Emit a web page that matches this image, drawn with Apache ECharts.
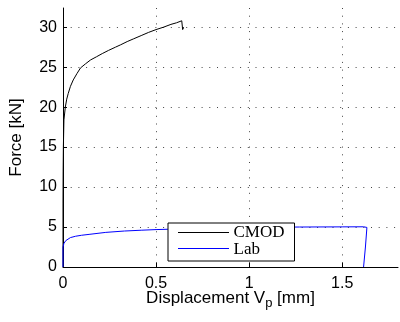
<!DOCTYPE html>
<html>
<head>
<meta charset="utf-8">
<script src="https://cdn.jsdelivr.net/npm/echarts@6/dist/echarts.min.js"></script>
<style>
  html, body { margin: 0; padding: 0; background: #fff; }
  #chart { width: 400px; height: 322px; }
</style>
</head>
<body>
<div id="chart"></div>
<script>
// Force–displacement curves: displacement Vp [mm], force [kN]
const cmodDisp = [0, 0, 0.0008, 0.002, 0.005, 0.0125, 0.02, 0.028, 0.04, 0.055, 0.075, 0.094, 0.12, 0.148, 0.18, 0.211, 0.245, 0.282, 0.31, 0.345, 0.38, 0.42, 0.46, 0.5, 0.54, 0.58, 0.61, 0.638, 0.642, 0.643, 0.646, 0.645];
const cmodForce = [0, 8, 12, 15, 18.4, 20.0, 21.0, 21.7, 22.6, 23.4, 24.2, 24.9, 25.4, 25.9, 26.3, 26.7, 27.1, 27.5, 27.8, 28.2, 28.55, 28.95, 29.35, 29.7, 30.0, 30.35, 30.55, 30.8, 30.7, 29.7, 30.0, 29.8];

const labDisp = [0, 0, 0.002, 0.005, 0.009, 0.015, 0.023, 0.04, 0.068, 0.1, 0.14, 0.23, 0.33, 0.42, 0.5, 0.56, 0.7, 0.85, 1.0, 1.27, 1.5, 1.615, 1.633, 1.625, 1.615];
const labForce = [0, 2.5, 2.75, 2.95, 3.1, 3.3, 3.5, 3.68, 3.85, 3.97, 4.08, 4.33, 4.5, 4.6, 4.68, 4.72, 4.82, 4.9, 4.95, 5.0, 5.02, 5.03, 4.95, 2.5, 0];

const xTicks = [0, 0.5, 1, 1.5];
const yTicks = [0, 5, 10, 15, 20, 25, 30];

const pairs = (xs, ys) => xs.map((x, i) => [x, ys[i]]);

const chart = echarts.init(document.getElementById('chart'));
const gridLine = { show: true, showMaxLine: false, lineStyle: { color: '#444', width: 1, type: [1, 6.7] } };
const sans = 'Liberation Sans, Arial, sans-serif';
const black = '#000000';
const blue = '#0000ff';

// legend box geometry (icons are drawn as plain strokes over the legend)
const legendLeft = 168, legendTop = 223, legendPadTop = 1, legendPadLeft = 9;
const legendItemH = 16, legendIconW = 51;
const iconLine = (row, color) => {
  const y = legendTop + legendPadTop + legendItemH * row + legendItemH / 2 + 0.5;
  const x0 = legendLeft + legendPadLeft + 1;
  return { type: 'line', z: 100, silent: true,
    shape: { x1: x0, y1: y, x2: x0 + legendIconW, y2: y },
    style: { stroke: color, lineWidth: 1 } };
};

chart.setOption({
  animation: false,
  grid: { left: 63, right: 2, top: 8, bottom: 55, containLabel: false },
  xAxis: {
    type: 'value', min: 0, max: 1.8, interval: 0.5,
    axisLine: { show: true, onZero: false, lineStyle: { color: '#000', width: 1 } },
    axisTick: { show: true, inside: true, length: 4, lineStyle: { color: '#000' } },
    axisLabel: { show: true, showMaxLabel: false, margin: 9, color: '#000', fontSize: 16, fontFamily: sans,
      formatter: v => xTicks.includes(v) ? String(v) : '' },
    splitLine: gridLine,
    name: '{a|Displacement V}{s|p}{a| [mm]}',
    nameLocation: 'middle', nameGap: 21, nameMoveOverlap: false,
    nameTextStyle: {
      rich: {
        a: { fontSize: 17, fontFamily: sans, color: '#000', lineHeight: 20 },
        s: { fontSize: 13, fontFamily: sans, color: '#000', lineHeight: 20, padding: [10, 0, 0, 0] }
      }
    }
  },
  yAxis: {
    type: 'value', min: 0, max: 32.4, interval: 5,
    axisLine: { show: true, onZero: false, lineStyle: { color: '#000', width: 1 } },
    axisTick: { show: true, inside: true, length: 4, lineStyle: { color: '#000' } },
    axisLabel: { show: true, showMaxLabel: false, margin: 6, color: '#000', fontSize: 16, fontFamily: sans,
      formatter: v => yTicks.includes(v) ? String(v) : '' },
    splitLine: gridLine,
    name: 'Force [kN]', nameLocation: 'middle', nameGap: 38, nameMoveOverlap: false,
    nameTextStyle: { fontSize: 17, fontFamily: sans, color: '#000' }
  },
  legend: {
    orient: 'vertical', left: legendLeft, top: legendTop,
    backgroundColor: '#fff', borderColor: '#000', borderWidth: 1,
    padding: [legendPadTop, 10, 3, legendPadLeft], itemGap: 0,
    itemWidth: legendIconW, itemHeight: legendItemH,
    itemStyle: { opacity: 0 },
    lineStyle: { width: 1, opacity: 0 },
    textStyle: { fontFamily: 'Liberation Serif, DejaVu Serif, serif', fontSize: 17, color: '#000', lineHeight: 16 },
    data: ['CMOD', 'Lab']
  },
  graphic: [iconLine(0, black), iconLine(1, blue)],
  series: [
    { name: 'CMOD', type: 'line', data: pairs(cmodDisp, cmodForce), symbol: 'none',
      lineStyle: { color: black, width: 1 }, itemStyle: { color: black } },
    { name: 'Lab', type: 'line', data: pairs(labDisp, labForce), symbol: 'none',
      lineStyle: { color: blue, width: 1 }, itemStyle: { color: blue } }
  ]
});
</script>
</body>
</html>
